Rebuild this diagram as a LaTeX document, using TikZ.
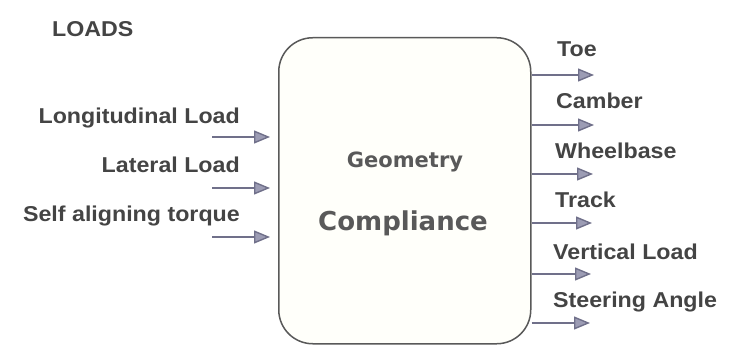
\documentclass[tikz,border=0pt]{standalone}
\usepackage{fontspec}
\setmainfont{Liberation Sans}[FakeStretch=1.08]
\newfontfamily\vfont{DejaVu Sans}
\usetikzlibrary{arrows.meta}
\definecolor{txt}{HTML}{444444}
\definecolor{arr}{HTML}{70708A}
\definecolor{arrhead}{HTML}{9C9CB4}
\definecolor{boxfill}{HTML}{FFFFFA}
\tikzset{
  lbl/.style={font=\fontsize{21.5}{24}\selectfont\bfseries, text=txt, inner sep=0pt},
  inarrow/.style={draw=arr, line width=1.4pt, -{Triangle[length=16pt,width=13pt,fill=arrhead]}},
  mainbox/.style={draw=black!65, line width=1.5pt, rounded corners=34pt, fill=boxfill}
}
\begin{document}
\begin{tikzpicture}[x=1pt,y=-1pt]
\useasboundingbox[fill=white] (0,0) rectangle (753,350);
\node[mainbox, minimum width=252pt, minimum height=306pt, anchor=north west] (box) at (278,37) {};
\node[lbl, anchor=west] (loads) at (52,29) {LOADS};
\node[font=\vfont\fontsize{21}{24}\selectfont\bfseries, text=black!65, inner sep=0pt] (geo) at (405,162) {Geometry};
\node[font=\vfont\fontsize{26}{30}\selectfont\bfseries, text=black!65, inner sep=0pt] (comp) at (403,223) {Compliance};
% inputs
\node[lbl, anchor=base east] (l1) at (240,124) {Longitudinal Load};
\node[lbl, anchor=base east] (l2) at (240,173) {Lateral Load};
\node[lbl, anchor=base east] (l3) at (240,222) {Self aligning torque};
\coordinate (s1) at (212,137); \coordinate (e1) at (270,137);
\coordinate (s2) at (212,188); \coordinate (e2) at (270,188);
\coordinate (s3) at (212,237); \coordinate (e3) at (270,237);
\draw[inarrow] (s1) -- (e1);
\draw[inarrow] (s2) -- (e2);
\draw[inarrow] (s3) -- (e3);
% outputs
\node[lbl, anchor=west] (r1) at (557,49) {Toe};
\node[lbl, anchor=west] (r2) at (556,101) {Camber};
\node[lbl, anchor=west] (r3) at (555,151) {Wheelbase};
\node[lbl, anchor=west] (r4) at (555,200) {Track};
\node[lbl, anchor=west] (r5) at (553,252) {Vertical Load};
\node[lbl, anchor=west] (r6) at (553,302) {Steering Angle};
\coordinate (t1) at (594,75);
\coordinate (t2) at (594,125);
\coordinate (t3) at (593,174);
\coordinate (t4) at (592,223);
\coordinate (t5) at (591,274);
\coordinate (t6) at (590,323);
\foreach \i in {1,...,6} {
  \draw[inarrow] (box.east |- t\i) -- (t\i);
}
\end{tikzpicture}
\end{document}
